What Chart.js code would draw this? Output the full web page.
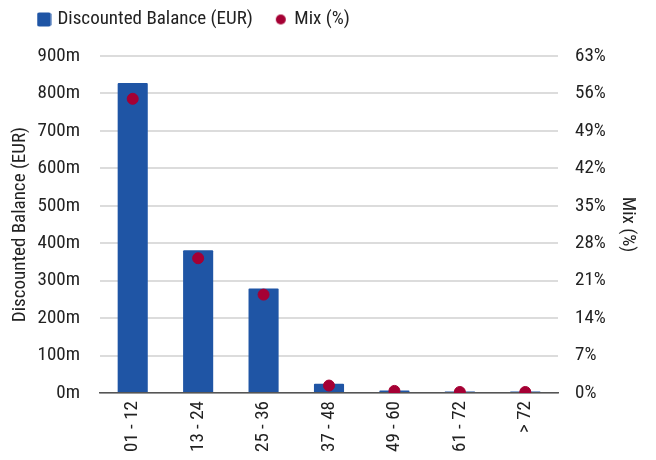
<!DOCTYPE html>
<html>
<head>
<meta charset="utf-8">
<script src="https://cdn.jsdelivr.net/npm/chart.js@4"></script>
<style>
  html, body { margin: 0; padding: 0; background: #fff; }
  #wrap { width: 656px; height: 460px; }
</style>
</head>
<body>
<div id="wrap"><canvas id="chart"></canvas></div>
<script>
// data
const categories = ['01 - 12', '13 - 24', '25 - 36', '37 - 48', '49 - 60', '61 - 72', '> 72'];
const balanceM = [828, 381, 279, 25, 7, 4, 4];          // EUR millions
const mixPct = [55.0, 25.2, 18.4, 1.4, 0.4, 0.2, 0.2];   // %
const balanceTicks = [0, 100, 200, 300, 400, 500, 600, 700, 800, 900];
const mixTicks = [0, 7, 14, 21, 28, 35, 42, 49, 56, 63];

const BLUE = '#1f55a5';
const RED = '#a50034';
const FONT = "Roboto, 'DejaVu Sans', sans-serif";

// small canvases used as legend markers
function marker(w, h, draw) {
    const c = document.createElement('canvas');
    c.width = w; c.height = h;
    draw(c.getContext('2d'));
    return c;
}
const boxMarker = marker(15, 15, ctx => {
    ctx.fillStyle = BLUE;
    ctx.beginPath();
    ctx.roundRect(0.5, 0.5, 14, 14, 2);
    ctx.fill();
});
const dotMarker = marker(12, 12, ctx => {
    ctx.fillStyle = RED;
    ctx.beginPath();
    ctx.arc(6, 6, 5, 0, Math.PI * 2);
    ctx.fill();
});

// move the legend up / right after layout (only the drawing moves)
const legendShift = {
    id: 'legendShift',
    afterLayout(chart) {
        const lg = chart.legend;
        if (!lg) return;
        lg.top -= 17;
        lg.bottom -= 17;
        lg.left += 16;
    },
};

Chart.defaults.font.family = FONT;
Chart.defaults.font.size = 19;
Chart.defaults.font.weight = 'condensed';   // goes into the font-stretch slot
Chart.defaults.color = '#222';

new Chart(document.getElementById('chart'), {
    data: {
        labels: categories,
        datasets: [
            {
                type: 'scatter',
                label: 'Mix (%)',
                data: mixPct,
                yAxisID: 'y2',
                backgroundColor: RED,
                borderColor: RED,
                pointRadius: 5.5,
                order: 0,
            },
            {
                type: 'bar',
                label: 'Discounted Balance (EUR)',
                data: balanceM,
                yAxisID: 'y',
                backgroundColor: BLUE,
                barPercentage: 0.46,
                categoryPercentage: 1,
                borderRadius: 1,
                order: 1,
            },
        ],
    },
    plugins: [legendShift],
    options: {
        responsive: true,
        maintainAspectRatio: false,
        animation: false,
        layout: { padding: { left: 0, right: 0, top: 3, bottom: 0 } },
        plugins: {
            legend: {
                position: 'top',
                align: 'start',
                reverse: true,
                labels: {
                    usePointStyle: true,
                    boxHeight: 14,
                    pointStyleWidth: 8,
                    padding: 24,
                    color: '#222',
                    generateLabels(chart) {
                        const items = Chart.defaults.plugins.legend.labels.generateLabels(chart);
                        items.forEach(it => {
                            it.pointStyle = it.datasetIndex === 1 ? boxMarker : dotMarker;
                        });
                        return items;
                    },
                },
            },
            tooltip: { enabled: false },
        },
        scales: {
            x: {
                type: 'category',
                grid: { display: false, drawTicks: false },
                border: { display: true, color: '#555', width: 1.5 },
                ticks: { minRotation: 90, maxRotation: 90, padding: 8, color: '#222' },
            },
            y: {
                position: 'left',
                min: 0,
                max: 900,
                afterBuildTicks(axis) { axis.ticks = balanceTicks.map(v => ({ value: v })); },
                afterFit(axis) { axis.width = 100; },
                ticks: { callback: v => v + 'm', padding: 20, color: '#222' },
                grid: { color: '#dcdcdc', lineWidth: 2, drawTicks: false },
                border: { display: false },
                title: { display: true, text: 'Discounted Balance (EUR)', color: '#222', padding: { top: 9, bottom: 0 } },
            },
            y2: {
                position: 'right',
                min: 0,
                max: 63,
                afterBuildTicks(axis) { axis.ticks = mixTicks.map(v => ({ value: v })); },
                afterFit(axis) { axis.width = 98; },
                ticks: { callback: v => v + '%', padding: 17, color: '#222' },
                grid: { display: false, drawTicks: false },
                border: { display: false },
                title: { display: true, text: 'Mix (%)', color: '#222', padding: { top: 17, bottom: 0 } },
            },
        },
    },
});
</script>
</body>
</html>
